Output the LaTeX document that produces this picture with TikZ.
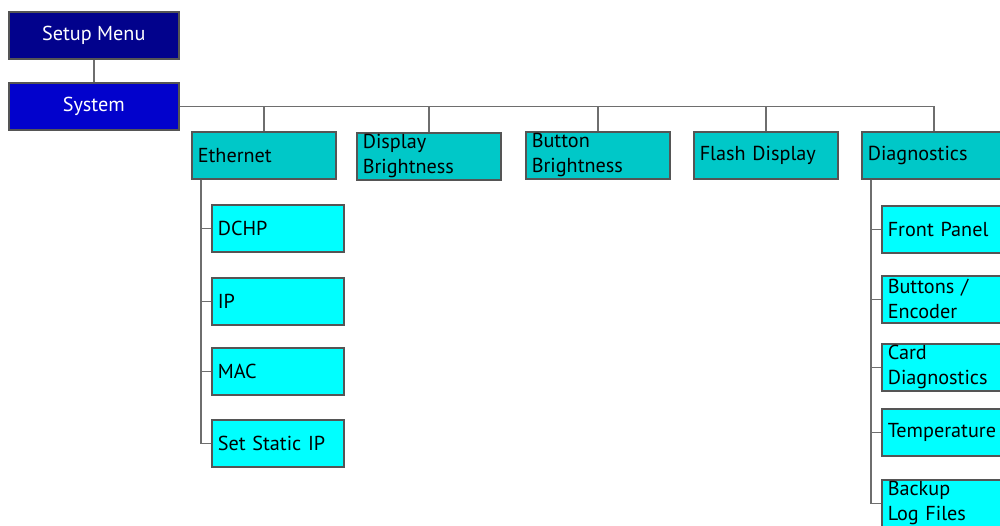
\documentclass[tikz,border=0pt]{standalone}
\usepackage{fontspec}
\setmainfont{PT Sans}
\definecolor{navy}{RGB}{2,2,140}
\definecolor{sysblue}{RGB}{2,2,204}
\definecolor{tealbox}{RGB}{0,200,200}
\definecolor{cyanbox}{RGB}{0,255,255}
\definecolor{edge}{RGB}{85,85,85}
\definecolor{wire}{RGB}{110,110,110}
\tikzset{
  box/.style={draw=edge, line width=0.9pt, inner ysep=0pt, inner xsep=0.12cm,
    font=\fontsize{11.5}{14.2}\selectfont, anchor=north west},
  topbox/.style={box, minimum width=3.4cm, minimum height=0.95cm, text=white, align=center},
  l2/.style={box, fill=tealbox, minimum width=2.88cm, minimum height=0.94cm,
    text width=2.64cm, align=left},
  l3/.style={box, fill=cyanbox, minimum width=2.64cm, minimum height=0.94cm,
    text width=2.40cm, align=left},
  wire/.style={draw=wire, line width=0.85pt}
}
\begin{document}
\begin{tikzpicture}[x=0.02cm, y=-0.02cm]
\clip (0,0) rectangle (1000,525);
\fill[white] (0,0) rectangle (1000,525);
% top
\node[topbox, fill=navy] (setup) at (8,11) {Setup Menu};
\node[topbox, fill=sysblue] (system) at (8,82) {System};
% level 2
\node[l2] (eth) at (191,131) {Ethernet};
\node[l2] (disp) at (356,132) {Display\\Brightness};
\node[l2] (btn) at (525,131) {Button\\Brightness};
\node[l2] (flash) at (693,131) {Flash Display};
\node[l2] (diag) at (861,131) {Diagnostics};
% ethernet children
\node[l3] (dchp) at (211,204) {DCHP};
\node[l3] (ip) at (211,277) {IP};
\node[l3] (mac) at (211,347) {MAC};
\node[l3] (static) at (211,419) {Set Static IP};
% diagnostics children
\node[l3] (front) at (881,205) {Front Panel};
\node[l3] (buttons) at (881,275) {Buttons /\\Encoder};
\node[l3] (card) at (881,343) {Card\\Diagnostics};
\node[l3] (temp) at (881,408) {Temperature};
\node[l3] (backup) at (881,479) {Backup\\Log Files};
% connectors
\draw[wire] (setup.south) -- (system.north);
\draw[wire] (system.east) -| (diag.north);
\foreach \n in {eth,disp,btn,flash}
  \draw[wire] (\n.north) -- (\n.north |- system.east);
\coordinate (ethtrunk) at ([xshift=0.2cm]eth.south west);
\coordinate (diagtrunk) at ([xshift=0.2cm]diag.south west);
\foreach \n in {dchp,ip,mac,static}
  \draw[wire] (ethtrunk) |- (\n.west);
\foreach \n in {front,buttons,card,temp,backup}
  \draw[wire] (diagtrunk) |- (\n.west);
\end{tikzpicture}
\end{document}
